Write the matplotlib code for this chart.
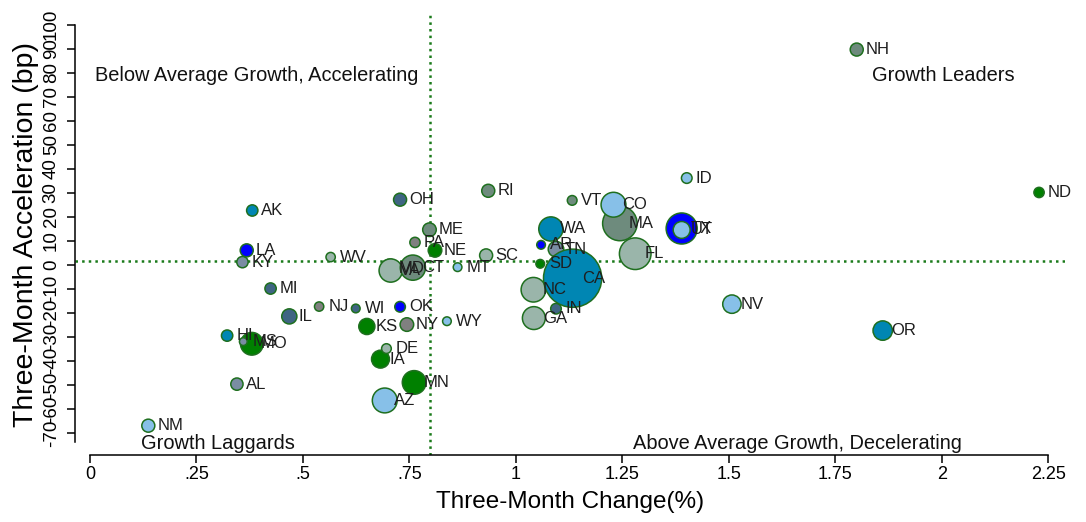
import numpy as np
import matplotlib
matplotlib.use("Agg")
import matplotlib.pyplot as plt

plt.rcParams['font.family'] = ['Liberation Sans', 'DejaVu Sans']

# state, three-month change (%), three-month acceleration (bp), weight, region
states = ['AK', 'OH', 'ME', 'PA', 'NE', 'LA', 'KY', 'WV', 'MD', 'VA',
          'CT', 'MT', 'MI', 'NJ', 'WI', 'OK', 'IL', 'KS', 'NY', 'WY',
          'HI', 'MS', 'MO', 'DE', 'IA', 'MN', 'AZ', 'AL', 'NM', 'RI',
          'VT', 'CO', 'MA', 'WA', 'AR', 'TN', 'SC', 'SD', 'CA', 'NC',
          'IN', 'GA', 'FL', 'TX', 'UT', 'ID', 'NV', 'NH', 'ND', 'OR']
change = [0.381, 0.728, 0.797, 0.763, 0.810, 0.368, 0.358, 0.565, 0.704, 0.706,
          0.758, 0.863, 0.424, 0.538, 0.624, 0.728, 0.468, 0.650, 0.744, 0.838,
          0.322, 0.360, 0.380, 0.696, 0.682, 0.761, 0.692, 0.345, 0.137, 0.935,
          1.132, 1.229, 1.244, 1.082, 1.059, 1.094, 0.930, 1.057, 1.133, 1.041,
          1.094, 1.042, 1.280, 1.389, 1.389, 1.401, 1.507, 1.800, 2.228, 1.861]
accel = [22.6, 27.1, 14.6, 9.3, 6.0, 6.0, 1.1, 3.2, -1.7, -2.4,
         -1.2, -1.0, -9.9, -17.4, -18.2, -17.5, -21.5, -25.7, -24.9, -23.5,
         -29.5, -32.0, -32.9, -34.9, -39.3, -49.0, -56.5, -49.7, -67.0, 30.8,
         26.8, 25.0, 17.2, 14.9, 8.3, 6.5, 3.9, 0.4, -5.6, -10.4,
         -18.3, -22.2, 4.6, 15.1, 14.5, 36.1, -16.4, 89.6, 30.1, -27.4]
weight = [34, 45, 49, 28, 49, 45, 34, 23, 100, 144,
          169, 20, 34, 23, 20, 30, 61, 69, 49, 20,
          34, 16, 137, 25, 85, 149, 164, 40, 45, 45,
          25, 164, 317, 156, 20, 64, 45, 20, 900, 161,
          30, 139, 266, 256, 76, 30, 90, 45, 28, 100]
region = ['PAC', 'ENC', 'NE', 'MA', 'WNC', 'WSC', 'ESC', 'SA', 'SA', 'SA',
          'NE', 'MTN', 'ENC', 'MA', 'ENC', 'WSC', 'ENC', 'WNC', 'MA', 'MTN',
          'PAC', 'ESC', 'WNC', 'SA', 'WNC', 'WNC', 'MTN', 'ESC', 'MTN', 'NE',
          'NE', 'MTN', 'NE', 'PAC', 'WSC', 'ESC', 'SA', 'WNC', 'PAC', 'SA',
          'ENC', 'SA', 'SA', 'WSC', 'MTN', 'MTN', 'MTN', 'NE', 'WNC', 'PAC']

avg_change = 0.798
avg_accel = 1.7

region_order = ['WNC', 'SA', 'MA', 'NE', 'ENC', 'ESC', 'WSC', 'MTN', 'PAC']
region_color = {'NE': '#6e8b7d', 'MA': '#808080', 'ENC': '#3f6583',
                'WNC': '#008000', 'SA': '#9ab5aa', 'ESC': '#7a8da3',
                'WSC': '#0000ff', 'MTN': '#87c0e8', 'PAC': '#0086b3'}

x = np.array(change)
y = np.array(accel)
w = np.array(weight)
reg = np.array(region)

fig = plt.figure(figsize=(10.86, 5.22), dpi=100)
ax = fig.add_axes([0.0691, 0.1284, 0.9116, 0.8429])

edge = '#1f6f1f'
for k, r in enumerate(region_order):
    m = reg == r
    ax.scatter(x[m], y[m], s=w[m] * 1.95, c=region_color[r], edgecolors=edge,
               linewidths=1.1, zorder=3 + k)

for s, xi, yi in zip(states, x, y):
    ax.annotate(s, (xi, yi), xytext=(6.5, 0), textcoords='offset points',
                ha='left', va='center', fontsize=12, color='#1e1e1e', zorder=20)

ax.axvline(avg_change, color='#1a7a1a', ls=':', lw=1.8, zorder=2)
ax.axhline(avg_accel, color='#1a7a1a', ls=':', lw=1.8, zorder=2)

ax.set_xlim(-0.035, 2.289)
ax.set_ylim(-79.2, 104)

for sp in ['top', 'right']:
    ax.spines[sp].set_visible(False)
ax.spines['left'].set_bounds(-74, 100)
ax.spines['bottom'].set_bounds(0, 2.25)
ax.spines['left'].set_linewidth(1.1)
ax.spines['bottom'].set_linewidth(1.1)

ax.set_xticks([0, 0.25, 0.5, 0.75, 1, 1.25, 1.5, 1.75, 2, 2.25])
ax.set_xticklabels(['0', '.25', '.5', '.75', '1', '1.25', '1.5', '1.75', '2', '2.25'],
                   fontsize=13)
yt = np.arange(-70, 101, 10)
ax.set_yticks(yt)
ax.set_yticklabels([str(v) for v in yt], fontsize=13.5, rotation=90, va='center')
ax.tick_params(axis='x', length=6, width=1.1, pad=2)
ax.tick_params(axis='y', length=6, width=1.1, pad=5)

ax.set_xlabel('Three-Month Change(%)', fontsize=17.5, labelpad=6)
ax.set_ylabel('Three-Month Acceleration (bp)', fontsize=20.5, labelpad=3)

ax.text(0.012, 79, 'Below Average Growth, Accelerating', fontsize=14.4,
        ha='left', va='center', color='#111111')
ax.text(2.171, 79, 'Growth Leaders', fontsize=14.4, ha='right', va='center',
        color='#111111')
ax.text(0.12, -74.6, 'Growth Laggards', fontsize=14.4, ha='left', va='center',
        color='#111111', clip_on=False)
ax.text(2.047, -74.6, 'Above Average Growth, Decelerating', fontsize=14.4,
        ha='right', va='center', color='#111111', clip_on=False)

fig.savefig('out.png', dpi=100)
